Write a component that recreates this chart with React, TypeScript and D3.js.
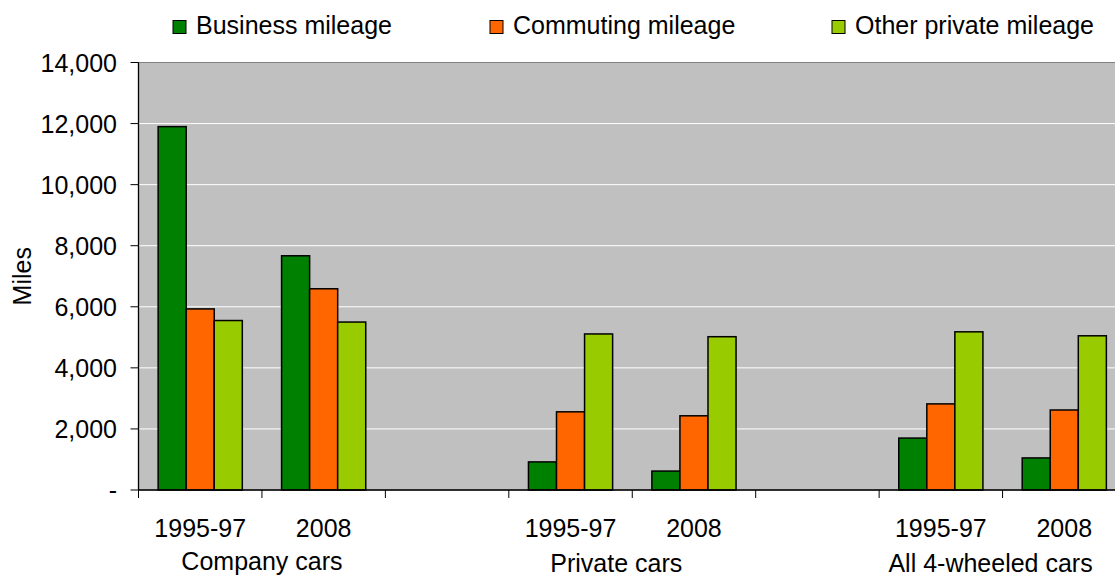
import React from "react";
import * as d3 from "d3";

const groups = ["Company cars", "Private cars", "All 4-wheeled cars"];
const periods = ["1995-97", "2008"];
const seriesNames = ["Business mileage", "Commuting mileage", "Other private mileage"];
const seriesColors = ["#008000", "#FF6600", "#99CC00"];
// values in order: Company 1995-97, Company 2008, Private 1995-97, Private 2008, All 1995-97, All 2008
const business = [11900, 7670, 920, 620, 1700, 1050];
const commuting = [5930, 6590, 2560, 2430, 2820, 2620];
const otherPrivate = [5550, 5500, 5110, 5020, 5180, 5050];
const yTicks = [0, 2000, 4000, 6000, 8000, 10000, 12000, 14000];

const W = 1115;
const H = 578;
const left = 138.5;
const right = 1126;
const top = 62.5;
const bottom = 490;
const FONT = "'Liberation Sans', Arial, sans-serif";

type Slot = { id: string; group: number; period: number; idx: number };

export default function App() {
  const seriesVals = [business, commuting, otherPrivate];
  const slots: Slot[] = [];
  let k = 0;
  groups.forEach((g, gi) => {
    periods.forEach((p, pi) => {
      slots.push({ id: `${gi}-${pi}`, group: gi, period: pi, idx: k++ });
    });
    if (gi < groups.length - 1) slots.push({ id: `gap-${gi}`, group: -1, period: -1, idx: -1 });
  });

  const x = d3.scaleBand<string>().domain(slots.map((s) => s.id)).range([left, right]).padding(0);
  const xs = d3.scaleBand<string>().domain(seriesNames).range([0, x.bandwidth()]).paddingInner(0).paddingOuter(0.7);
  const y = d3.scaleLinear().domain([0, 14000]).range([bottom, top]);
  const fmt = (v: number) => (v === 0 ? "-" : d3.format(",")(v));

  const boundaries = slots.map((s) => x(s.id) as number).concat([right]);
  const groupDx = [0, -16, -12];
  const groupY = [570, 572, 572];
  const legendX = [173, 490, 832];

  return (
    <svg width={W} height={H} style={{ position: "absolute", left: 0, top: 0, background: "#fff" }} fontFamily={FONT}>
      <rect x={left} y={top} width={right - left} height={bottom - top} fill="#C0C0C0" stroke="#808080" strokeWidth={1} />
      {yTicks.slice(1, -1).map((t) => (
        <line key={t} x1={left} x2={right} y1={y(t)} y2={y(t)} stroke="#fff" strokeWidth={1} />
      ))}
      {slots.filter((s) => s.idx >= 0).map((s) =>
        seriesVals.map((vals, si) => {
          const v = vals[s.idx];
          const bx = (x(s.id) as number) + (xs(seriesNames[si]) as number);
          return (
            <rect key={`${s.id}-${si}`} x={bx} y={y(v)} width={xs.bandwidth()} height={bottom - y(v)}
              fill={seriesColors[si]} stroke="#000" strokeWidth={1.5} />
          );
        })
      )}
      {/* axes */}
      <line x1={left} x2={left} y1={top} y2={bottom} stroke="#000" strokeWidth={1.3} />
      <line x1={left} x2={right} y1={bottom} y2={bottom} stroke="#000" strokeWidth={1.3} />
      {yTicks.map((t) => (
        <g key={t}>
          <line x1={left - 8} x2={left} y1={y(t)} y2={y(t)} stroke="#000" strokeWidth={1} />
          <text x={117} y={y(t)} dy="0.36em" textAnchor="end" fontSize={25} fill="#000">{fmt(t)}</text>
        </g>
      ))}
      {boundaries.map((b, i) => (
        <line key={i} x1={b} x2={b} y1={bottom} y2={bottom + 8} stroke="#000" strokeWidth={1} />
      ))}
      {slots.filter((s) => s.idx >= 0).map((s) => (
        <text key={s.id} x={(x(s.id) as number) + x.bandwidth() / 2} y={537} textAnchor="middle" fontSize={25} fill="#000">
          {periods[s.period]}
        </text>
      ))}
      {groups.map((g, gi) => {
        const a = x(`${gi}-0`) as number;
        const b = (x(`${gi}-1`) as number) + x.bandwidth();
        return (
          <text key={g} x={(a + b) / 2 + groupDx[gi]} y={groupY[gi]} textAnchor="middle" fontSize={25} fill="#000">{g}</text>
        );
      })}
      <text transform={`translate(22,${(top + bottom) / 2}) rotate(-90)`} textAnchor="middle" dy="0.36em" fontSize={25} fill="#000">Miles</text>
      {/* legend */}
      {seriesNames.map((n, i) => (
        <g key={n}>
          <rect x={legendX[i]} y={20.5} width={13} height={13} fill={seriesColors[i]} stroke="#000" strokeWidth={1} />
          <text x={legendX[i] + 23} y={34} fontSize={25} fill="#000">{n}</text>
        </g>
      ))}
    </svg>
  );
}
